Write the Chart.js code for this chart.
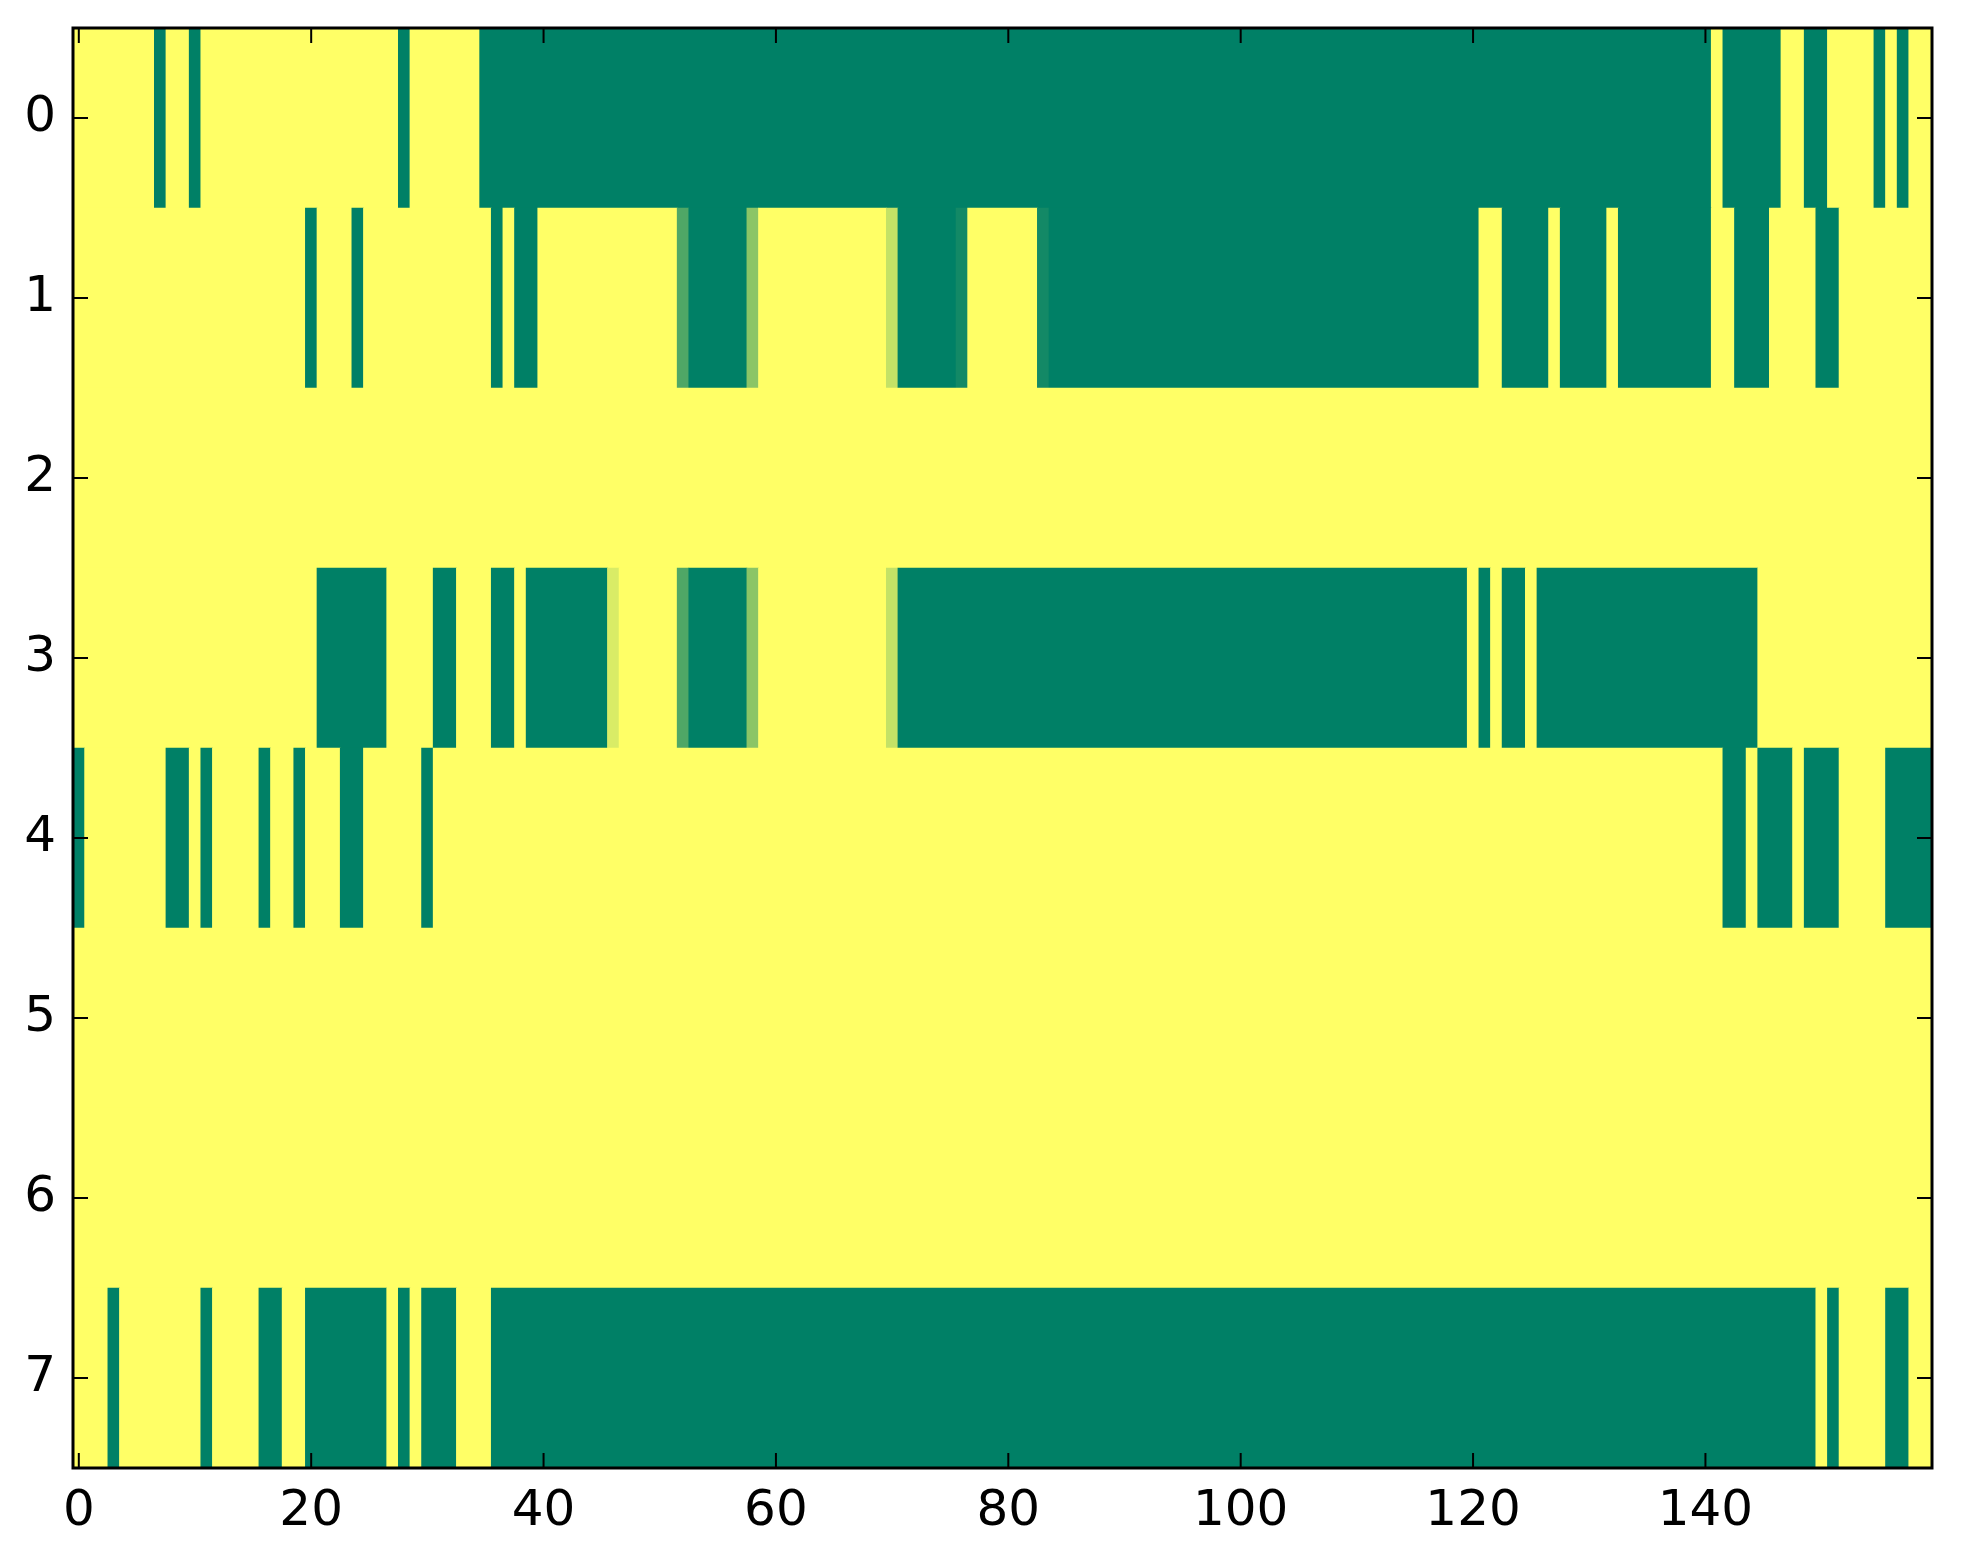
<!DOCTYPE html>
<html>
<head>
<meta charset="utf-8">
<script src="https://cdn.jsdelivr.net/npm/chart.js@4/dist/chart.umd.min.js"></script>
<style>
  html, body { margin: 0; padding: 0; background: #fff; }
  #wrap { width: 1963px; height: 1564px; position: relative; }
</style>
</head>
<body>
<div id="wrap"><canvas id="heat"></canvas></div>
<script>
// Matrix: 8 rows x 160 columns, 0 = green end, 1 = yellow end.
const row0 = [
  1,1,1,1,1,1,1,0,1,1, 0,1,1,1,1,1,1,1,1,1,
  1,1,1,1,1,1,1,1,0,1, 1,1,1,1,1,0,0,0,0,0,
  0,0,0,0,0,0,0,0,0,0, 0,0,0,0,0,0,0,0,0,0,
  0,0,0,0,0,0,0,0,0,0, 0,0,0,0,0,0,0,0,0,0,
  0,0,0,0,0,0,0,0,0,0, 0,0,0,0,0,0,0,0,0,0,
  0,0,0,0,0,0,0,0,0,0, 0,0,0,0,0,0,0,0,0,0,
  0,0,0,0,0,0,0,0,0,0, 0,0,0,0,0,0,0,0,0,0,
  0,1,0,0,0,0,0,1,1,0, 0,1,1,1,1,0,1,0,1,1
];
const row1 = [
  1,1,1,1,1,1,1,1,1,1, 1,1,1,1,1,1,1,1,1,1,
  0,1,1,1,0,1,1,1,1,1, 1,1,1,1,1,1,0,1,0,0,
  1,1,1,1,1,1,1,1,1,1, 1,1,0.31,0,0,0,0,0,0.545,1,
  1,1,1,1,1,1,1,1,1,1, 0.77,0,0,0,0,0,0.075,1,1,1,
  1,1,1,0.075,0,0,0,0,0,0, 0,0,0,0,0,0,0,0,0,0,
  0,0,0,0,0,0,0,0,0,0, 0,0,0,0,0,0,0,0,0,0,
  0,1,1,0,0,0,0,1,0,0, 0,0,1,0,0,0,0,0,0,0,
  0,1,1,0,0,0,1,1,1,1, 0,0,1,1,1,1,1,1,1,1
];
const row2 = [
  1,1,1,1,1,1,1,1,1,1, 1,1,1,1,1,1,1,1,1,1,
  1,1,1,1,1,1,1,1,1,1, 1,1,1,1,1,1,1,1,1,1,
  1,1,1,1,1,1,1,1,1,1, 1,1,1,1,1,1,1,1,1,1,
  1,1,1,1,1,1,1,1,1,1, 1,1,1,1,1,1,1,1,1,1,
  1,1,1,1,1,1,1,1,1,1, 1,1,1,1,1,1,1,1,1,1,
  1,1,1,1,1,1,1,1,1,1, 1,1,1,1,1,1,1,1,1,1,
  1,1,1,1,1,1,1,1,1,1, 1,1,1,1,1,1,1,1,1,1,
  1,1,1,1,1,1,1,1,1,1, 1,1,1,1,1,1,1,1,1,1
];
const row3 = [
  1,1,1,1,1,1,1,1,1,1, 1,1,1,1,1,1,1,1,1,1,
  1,0,0,0,0,0,0,1,1,1, 1,0,0,1,1,1,0,0,1,0,
  0,0,0,0,0,0,0.85,1,1,1, 1,1,0.31,0,0,0,0,0,0.545,1,
  1,1,1,1,1,1,1,1,1,1, 0.77,0,0,0,0,0,0,0,0,0,
  0,0,0,0,0,0,0,0,0,0, 0,0,0,0,0,0,0,0,0,0,
  0,0,0,0,0,0,0,0,0,0, 0,0,0,0,0,0,0,0,0,0,
  1,0,1,0,0,1,0,0,0,0, 0,0,0,0,0,0,0,0,0,0,
  0,0,0,0,0,1,1,1,1,1, 1,1,1,1,1,1,1,1,1,1
];
const row4 = [
  0,1,1,1,1,1,1,1,0,0, 1,0,1,1,1,1,0,1,1,0,
  1,1,1,0,0,1,1,1,1,1, 0,1,1,1,1,1,1,1,1,1,
  1,1,1,1,1,1,1,1,1,1, 1,1,1,1,1,1,1,1,1,1,
  1,1,1,1,1,1,1,1,1,1, 1,1,1,1,1,1,1,1,1,1,
  1,1,1,1,1,1,1,1,1,1, 1,1,1,1,1,1,1,1,1,1,
  1,1,1,1,1,1,1,1,1,1, 1,1,1,1,1,1,1,1,1,1,
  1,1,1,1,1,1,1,1,1,1, 1,1,1,1,1,1,1,1,1,1,
  1,1,0,0,1,0,0,0,1,0, 0,0,1,1,1,1,0,0,0,0
];
const row5 = [
  1,1,1,1,1,1,1,1,1,1, 1,1,1,1,1,1,1,1,1,1,
  1,1,1,1,1,1,1,1,1,1, 1,1,1,1,1,1,1,1,1,1,
  1,1,1,1,1,1,1,1,1,1, 1,1,1,1,1,1,1,1,1,1,
  1,1,1,1,1,1,1,1,1,1, 1,1,1,1,1,1,1,1,1,1,
  1,1,1,1,1,1,1,1,1,1, 1,1,1,1,1,1,1,1,1,1,
  1,1,1,1,1,1,1,1,1,1, 1,1,1,1,1,1,1,1,1,1,
  1,1,1,1,1,1,1,1,1,1, 1,1,1,1,1,1,1,1,1,1,
  1,1,1,1,1,1,1,1,1,1, 1,1,1,1,1,1,1,1,1,1
];
const row6 = [
  1,1,1,1,1,1,1,1,1,1, 1,1,1,1,1,1,1,1,1,1,
  1,1,1,1,1,1,1,1,1,1, 1,1,1,1,1,1,1,1,1,1,
  1,1,1,1,1,1,1,1,1,1, 1,1,1,1,1,1,1,1,1,1,
  1,1,1,1,1,1,1,1,1,1, 1,1,1,1,1,1,1,1,1,1,
  1,1,1,1,1,1,1,1,1,1, 1,1,1,1,1,1,1,1,1,1,
  1,1,1,1,1,1,1,1,1,1, 1,1,1,1,1,1,1,1,1,1,
  1,1,1,1,1,1,1,1,1,1, 1,1,1,1,1,1,1,1,1,1,
  1,1,1,1,1,1,1,1,1,1, 1,1,1,1,1,1,1,1,1,1
];
const row7 = [
  1,1,1,0,1,1,1,1,1,1, 1,0,1,1,1,1,0,0,1,1,
  0,0,0,0,0,0,0,1,0,1, 0,0,0,1,1,1,0,0,0,0,
  0,0,0,0,0,0,0,0,0,0, 0,0,0,0,0,0,0,0,0,0,
  0,0,0,0,0,0,0,0,0,0, 0,0,0,0,0,0,0,0,0,0,
  0,0,0,0,0,0,0,0,0,0, 0,0,0,0,0,0,0,0,0,0,
  0,0,0,0,0,0,0,0,0,0, 0,0,0,0,0,0,0,0,0,0,
  0,0,0,0,0,0,0,0,0,0, 0,0,0,0,0,0,0,0,0,0,
  0,0,0,0,0,0,0,0,0,0, 1,0,1,1,1,1,0,0,1,1
];
const rows = [row0, row1, row2, row3, row4, row5, row6, row7];
const xTicks = [0, 20, 40, 60, 80, 100, 120, 140];
const yTicks = [0, 1, 2, 3, 4, 5, 6, 7];

// matplotlib "summer" colormap: green (0) -> yellow (1)
function summer(v) {
    return `rgb(${Math.round(255 * v)},${Math.round(255 * (0.5 + 0.5 * v))},102)`;
}

// Merge equal neighbours of a row into one floating bar, so no seams show.
function rowRuns(vals, r) {
    const out = [];
    let start = 0;
    for (let c = 1; c <= vals.length; c++) {
        if (c === vals.length || vals[c] !== vals[start]) {
            out.push({ x: [start - 0.5, c - 0.5], y: r, v: vals[start] });
            start = c;
        }
    }
    return out;
}

const cells = rows.flatMap((vals, r) => rowRuns(vals, r));
const nCols = row0.length;

// Frame and inward tick marks on all four sides (classic matplotlib look).
const framePlugin = {
    id: 'frame',
    afterDraw(chart) {
        const { ctx, chartArea: a, scales } = chart;
        ctx.save();
        ctx.strokeStyle = '#000';
        ctx.lineWidth = 2;
        ctx.beginPath();
        for (const v of xTicks) {
            const px = scales.x.getPixelForValue(v);
            ctx.moveTo(px, a.bottom); ctx.lineTo(px, a.bottom - 15);
            ctx.moveTo(px, a.top); ctx.lineTo(px, a.top + 15);
        }
        for (const v of yTicks) {
            const py = scales.y.getPixelForValue(v);
            ctx.moveTo(a.left, py); ctx.lineTo(a.left + 15, py);
            ctx.moveTo(a.right, py); ctx.lineTo(a.right - 15, py);
        }
        ctx.stroke();
        ctx.lineWidth = 3;
        ctx.strokeRect(a.left, a.top, a.right - a.left, a.bottom - a.top);
        ctx.restore();
    }
};

const tickFont = { family: 'DejaVu Sans', size: 50 };

new Chart(document.getElementById('heat').getContext('2d'), {
    type: 'bar',
    data: {
        datasets: [{
            data: cells,
            backgroundColor: c => summer(c.raw ? c.raw.v : 1),
            borderWidth: 0,
            grouped: false,
            barPercentage: 1,
            categoryPercentage: 1
        }]
    },
    options: {
        indexAxis: 'y',
        responsive: true, maintainAspectRatio: false,
        devicePixelRatio: 1,
        animation: false,
        layout: { padding: { top: 28, right: 31, left: 0, bottom: 0 } },
        plugins: { legend: { display: false }, tooltip: { enabled: false } },
        scales: {
            x: {
                type: 'linear', min: -0.5, max: nCols - 0.5,
                grid: { display: false, drawTicks: false },
                border: { display: false },
                afterBuildTicks: s => { s.ticks = xTicks.map(v => ({ value: v })); },
                afterFit: s => { s.height = 96; s.paddingLeft = 0; s.paddingRight = 0; },
                ticks: { color: '#000', font: tickFont, padding: 14, maxRotation: 0, autoSkip: false }
            },
            y: {
                type: 'linear', min: -0.5, max: rows.length - 0.5, reverse: true,
                offset: false,
                grid: { display: false, drawTicks: false, offset: false },
                border: { display: false },
                afterBuildTicks: s => { s.ticks = yTicks.map(v => ({ value: v })); },
                afterFit: s => { s.width = 73; s.paddingTop = 0; s.paddingBottom = 0; },
                ticks: { color: '#000', font: tickFont, padding: 17, autoSkip: false }
            }
        }
    },
    plugins: [framePlugin]
});
</script>
</body>
</html>
